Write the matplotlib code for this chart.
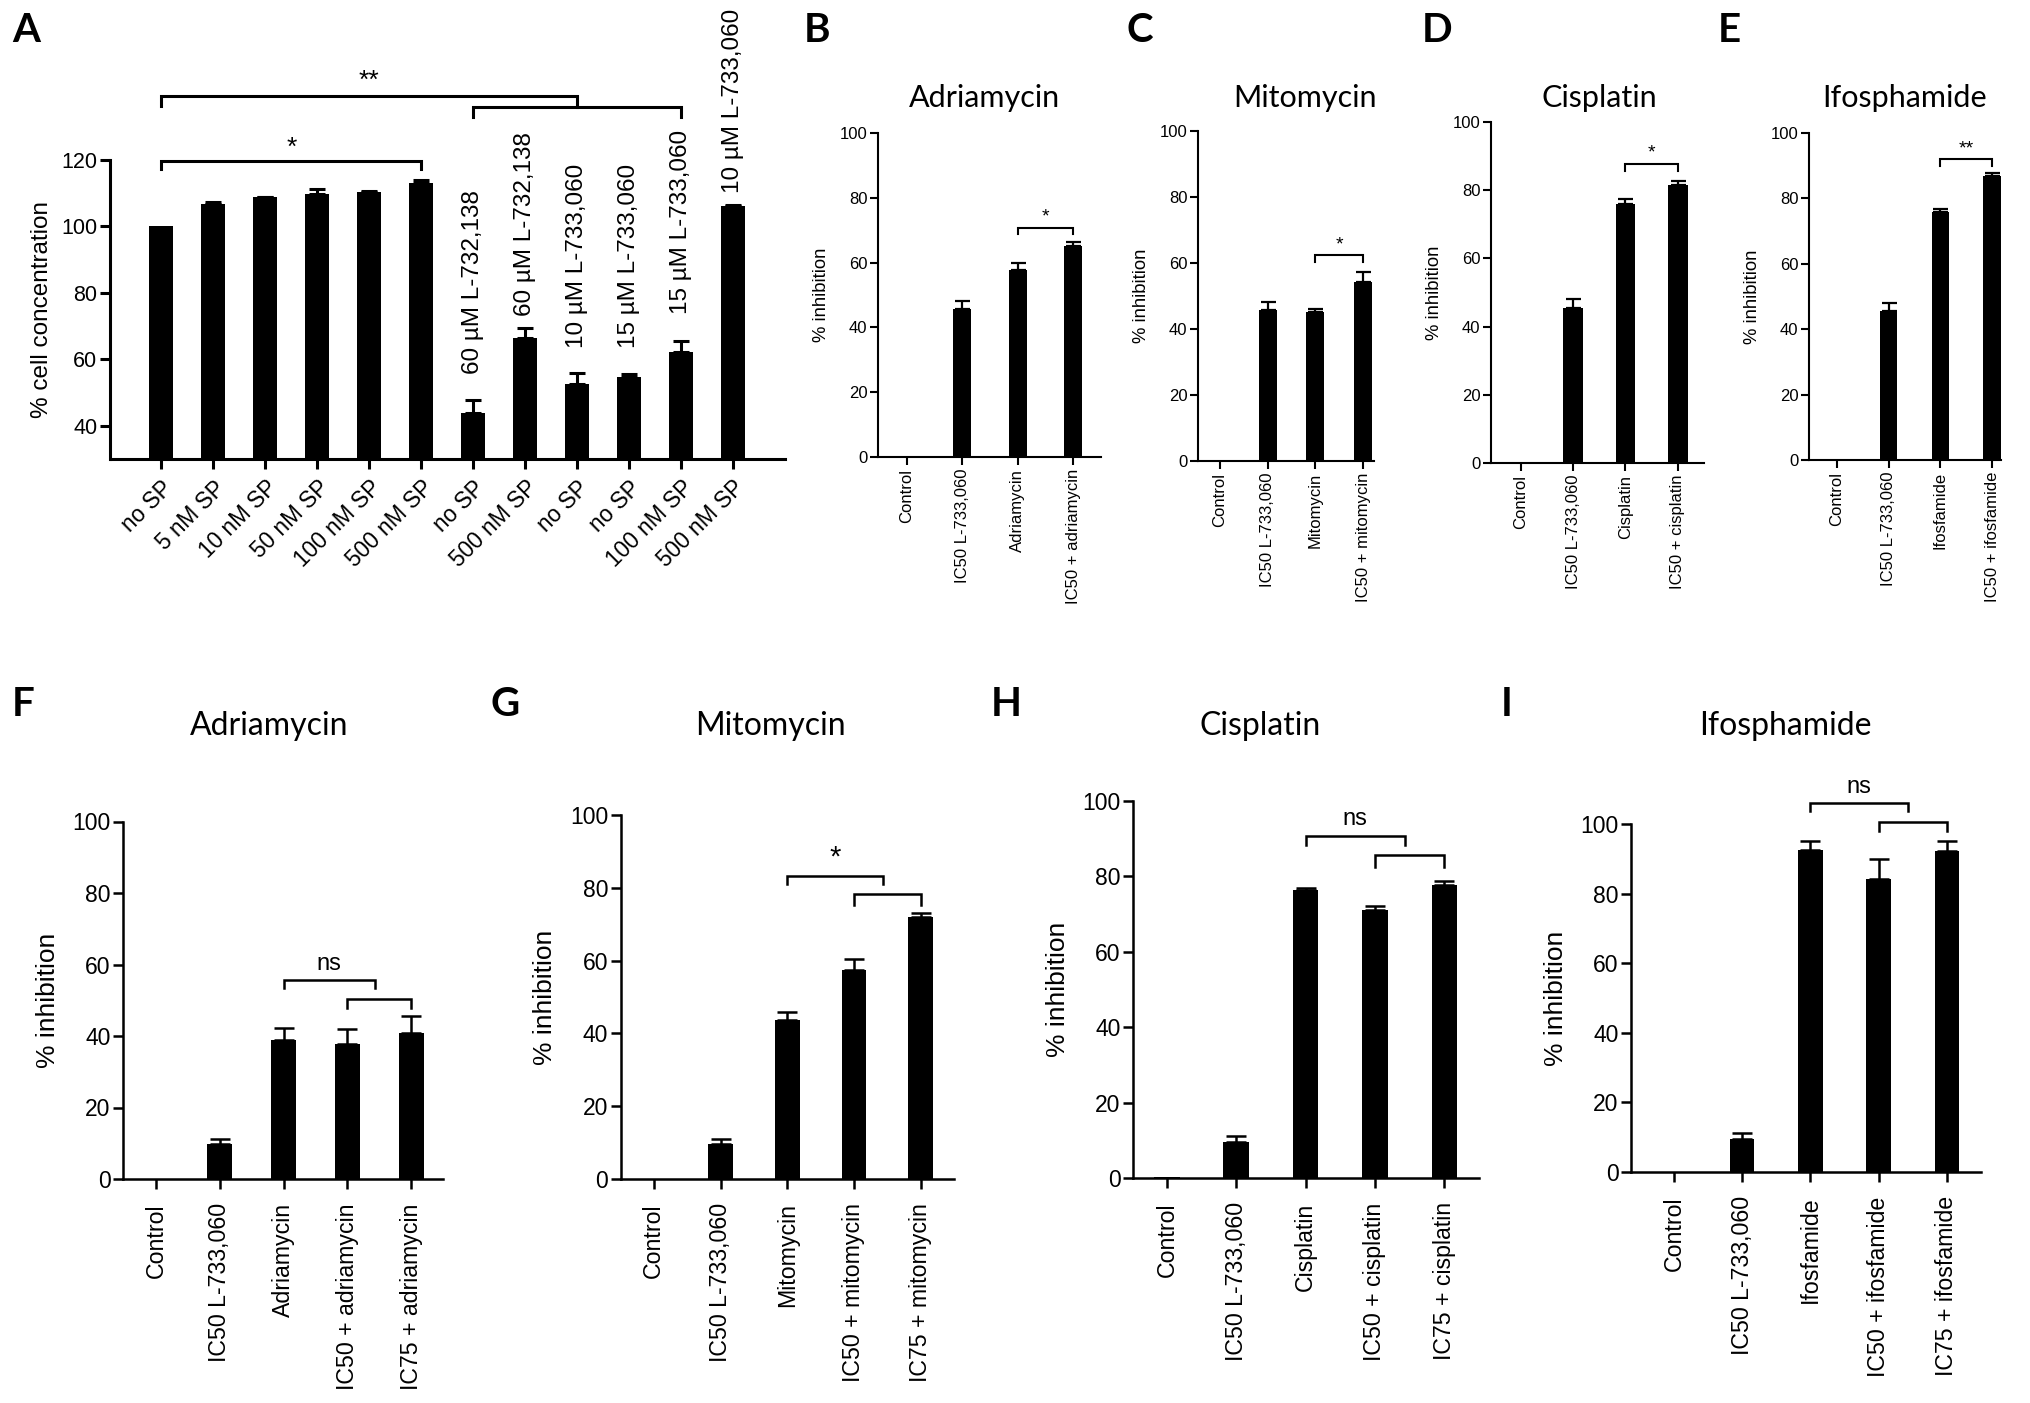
import numpy as np
import matplotlib
matplotlib.use("Agg")
from matplotlib import pyplot as plt

W, H = 2031, 1403
plt.rcParams['font.family'] = ['Liberation Sans', 'DejaVu Sans']

# ---- panel A: cell concentration ----
a_labels = ['no SP', '5 nM SP', '10 nM SP', '50 nM SP', '100 nM SP', '500 nM SP',
            'no SP', '500 nM SP', 'no SP', 'no SP', '100 nM SP', '500 nM SP']
a_values = [100, 106.9, 108.9, 109.9, 110.5, 113.2, 43.8, 66.4, 52.7, 54.8, 62.3, 106.3]
a_sem = [0, 0.6, 0.1, 1.4, 0.1, 0.8, 3.9, 3.0, 3.3, 0.7, 3.3, 0.2]
a_group_labels = ['60 µM L-732,138', '60 µM L-732,138', '10 µM L-733,060',
                  '15 µM L-733,060', '15 µM L-733,060', '10 µM L-733,060']
a_group_bars = [6, 7, 8, 9, 10, 11]
a_group_y = [55.7, 73.0, 63.5, 63.5, 73.6, 110.0]

# ---- panels B-E: IC50 combinations ----
b_labels = ['Control', 'IC50 L-733,060', 'Adriamycin', 'IC50 + adriamycin']
b_values = [0, 45.7, 57.6, 65.2]
b_sem = [0, 2.5, 2.4, 1.3]

c_labels = ['Control', 'IC50 L-733,060', 'Mitomycin', 'IC50 + mitomycin']
c_values = [0, 45.7, 45.1, 54.3]
c_sem = [0, 2.4, 0.9, 3.1]

d_labels = ['Control', 'IC50 L-733,060', 'Cisplatin', 'IC50 + cisplatin']
d_values = [0, 45.6, 75.9, 81.5]
d_sem = [0, 2.4, 1.4, 1.3]

e_labels = ['Control', 'IC50 L-733,060', 'Ifosfamide', 'IC50 + ifosfamide']
e_values = [0, 45.6, 75.7, 86.9]
e_sem = [0, 2.3, 1.0, 0.8]

# ---- panels F-I: IC50 / IC75 combinations ----
f_labels = ['Control', 'IC50 L-733,060', 'Adriamycin', 'IC50 + adriamycin', 'IC75 + adriamycin']
f_values = [0, 9.7, 39.0, 37.8, 40.9]
f_sem = [0, 1.6, 3.3, 4.1, 4.8]

g_labels = ['Control', 'IC50 L-733,060', 'Mitomycin', 'IC50 + mitomycin', 'IC75 + mitomycin']
g_values = [0, 9.5, 43.8, 57.5, 72.0]
g_sem = [0, 1.6, 2.2, 3.0, 1.2]

h_labels = ['Control', 'IC50 L-733,060', 'Cisplatin', 'IC50 + cisplatin', 'IC75 + cisplatin']
h_values = [0.3, 9.5, 76.5, 71.0, 77.6]
h_sem = [0, 1.7, 0.3, 1.2, 1.3]

i_labels = ['Control', 'IC50 L-733,060', 'Ifosfamide', 'IC50 + ifosfamide', 'IC75 + ifosfamide']
i_values = [0, 9.6, 92.6, 84.2, 92.1]
i_sem = [0, 1.7, 2.6, 5.6, 2.9]

# significance brackets: (x0, x1, y, left leg, right leg)
a_brackets = [(0, 5, 119.8, 2.5, 2.5), (0, 8, 139.3, 3.0, 3.3), (6, 10, 136.0, 3.0, 3.0)]
a_marks = [('*', 2.5, 123.6), ('**', 4.0, 143.8)]


def px_axes(fig, left, right, top, bottom):
    return fig.add_axes([left / W, 1 - bottom / H, (right - left) / W, (bottom - top) / H])


def style_axes(ax, lw, ticklen, fs):
    for s in ['top', 'right']:
        ax.spines[s].set_visible(False)
    for s in ['left', 'bottom']:
        ax.spines[s].set_linewidth(lw)
    ax.tick_params(direction='out', width=lw, length=ticklen, labelsize=fs, pad=2)


def draw_bars(ax, values, sem, width, lw, cap):
    x = np.arange(len(values))
    ax.bar(x, values, width, color='black', edgecolor='black', linewidth=0, zorder=2)
    sem = np.array(sem, dtype=float)
    keep = sem > 0
    ax.errorbar(x[keep], np.array(values)[keep], yerr=[np.zeros(keep.sum()), sem[keep]],
                fmt='none', ecolor='black', elinewidth=lw, capsize=cap, capthick=lw, zorder=3)
    return x


def bracket(ax, x0, x1, y, leg0, leg1, lw):
    ax.plot([x0, x0, x1, x1], [y - leg0, y, y, y - leg1], color='black', lw=lw,
            clip_on=False, solid_joinstyle='miter', zorder=4)


fig = plt.figure(figsize=(W / 100, H / 100), dpi=100)

# ---------- A ----------
ax = px_axes(fig, 110.5, 785, 160, 459)
style_axes(ax, 2.2, 7.5, 15.5)
ax.tick_params(axis='x', pad=5)
x = draw_bars(ax, a_values, a_sem, 0.46, 2.2, 6)
ax.set_xlim(-0.98, 12.0)
ax.set_ylim(30, 120)
ax.set_yticks([40, 60, 80, 100, 120])
ax.spines['left'].set_bounds(30, 120)
ax.set_xticks(x)
ax.set_xticklabels(a_labels, rotation=45, ha='right', rotation_mode='anchor', fontsize=16.3)
ax.set_ylabel('% cell concentration', fontsize=17.5, labelpad=6)
for lab, b, yy in zip(a_group_labels, a_group_bars, a_group_y):
    ax.text(b, yy, lab, rotation=90, ha='center', va='bottom', fontsize=17.5)
for br in a_brackets:
    bracket(ax, *br, lw=2.2)
for txt, xx, yy in a_marks:
    ax.text(xx, yy, txt, ha='center', va='center', fontsize=19, clip_on=False)

# ---------- B-E ----------
top_panels = [
    (b_labels, b_values, b_sem, (878, 1101, 133, 457), (-0.52, 3.5), 0.33,
     'Adriamycin', (984, 98), 'B', (817, 31), (2, 3, 70.8, 1.9, 1.9), ('*', 74.2)),
    (c_labels, c_values, c_sem, (1198, 1374, 131, 461), (-0.46, 3.23), 0.38,
     'Mitomycin', (1305, 98), 'C', (1140, 31), (2, 3, 62.3, 2.1, 2.1), ('*', 65.4)),
    (d_labels, d_values, d_sem, (1491, 1704, 122, 463), (-0.57, 3.5), 0.37,
     'Cisplatin', (1599, 98), 'D', (1437, 31), (2, 3, 87.8, 2.1, 2.1), ('*', 90.8)),
    (e_labels, e_values, e_sem, (1809, 2001, 133, 460), (-0.54, 3.17), 0.34,
     'Ifosphamide', (1905, 98), 'E', (1729, 31), (2, 3, 91.9, 1.9, 1.9), ('**', 95.0)),
]

for labels, vals, sem, box, xlim, bw, title, tpos, letter, lpos, br, mark in top_panels:
    ax = px_axes(fig, *box)
    style_axes(ax, 1.5, 5.5, 12)
    ax.tick_params(axis='x', pad=3)
    x = draw_bars(ax, vals, sem, bw, 1.6, 5.4)
    ax.set_xlim(*xlim)
    ax.set_ylim(0, 100)
    ax.set_yticks([0, 20, 40, 60, 80, 100])
    ax.set_xticks(x)
    ax.set_xticklabels(labels, rotation=90, fontsize=12)
    ax.set_ylabel('% inhibition', fontsize=13.3, labelpad=7)
    bracket(ax, *br, lw=1.5)
    ax.text((br[0] + br[1]) / 2, mark[1], mark[0], ha='center', va='center', fontsize=14,
            clip_on=False)
    fig.text(tpos[0] / W, 1 - tpos[1] / H, title, ha='center', va='center',
             fontsize=22, family=['Lato', 'DejaVu Sans'])
    fig.text(lpos[0] / W, 1 - lpos[1] / H, letter, ha='center', va='center',
             fontsize=29, fontweight='bold', family=['Lato', 'DejaVu Sans'])

fig.text(26 / W, 1 - 31 / H, 'A', ha='center', va='center', fontsize=29,
         fontweight='bold', family=['Lato', 'DejaVu Sans'])

# ---------- F-I ----------
bottom_panels = [
    (f_labels, f_values, f_sem, (123, 443, 821.5, 1179), (-0.52, 4.5), 0.39,
     'Adriamycin', (269, 726), 'F', (23, 705),
     [(2, 3.43, 55.7, 2.3, 2.3), (3, 4, 50.3, 2.5, 2.5)], ('ns', 60.2)),
    (g_labels, g_values, g_sem, (620.5, 954, 815, 1179), (-0.5, 4.5), 0.37,
     'Mitomycin', (770, 726), 'G', (505, 705),
     [(2, 3.43, 83.3, 2.3, 2.3), (3, 4, 78.2, 2.8, 2.8)], ('*', 88.4)),
    (h_labels, h_values, h_sem, (1133, 1479, 801, 1178), (-0.49, 4.5), 0.37,
     'Cisplatin', (1260, 726), 'H', (1006, 705),
     [(2, 3.43, 90.7, 2.4, 2.4), (3, 4, 85.6, 3.0, 3.0)], ('ns', 95.1)),
    (i_labels, i_values, i_sem, (1631, 1981, 824, 1172), (-0.63, 4.5), 0.36,
     'Ifosphamide', (1785, 726), 'I', (1507, 705),
     [(2, 3.43, 106.0, 2.3, 2.3), (3, 4, 100.7, 2.7, 2.7)], ('ns', 110.6)),
]

for labels, vals, sem, box, xlim, bw, title, tpos, letter, lpos, brs, mark in bottom_panels:
    ax = px_axes(fig, *box)
    style_axes(ax, 1.8, 7, 16.5)
    ax.tick_params(axis='x', pad=10.5)
    x = draw_bars(ax, vals, sem, bw, 1.8, 7.5)
    ax.set_xlim(*xlim)
    ax.set_ylim(0, 100)
    ax.set_yticks([0, 20, 40, 60, 80, 100])
    ax.set_xticks(x)
    ax.set_xticklabels(labels, rotation=90, fontsize=16.7)
    ax.set_ylabel('% inhibition', fontsize=19, labelpad=9)
    for br in brs:
        bracket(ax, *br, lw=1.8)
    ax.text((brs[0][0] + brs[0][1]) / 2, mark[1], mark[0], ha='center', va='center',
            fontsize=17 if mark[0] == 'ns' else 21, clip_on=False)
    fig.text(tpos[0] / W, 1 - tpos[1] / H, title, ha='center', va='center',
             fontsize=23, family=['Lato', 'DejaVu Sans'])
    fig.text(lpos[0] / W, 1 - lpos[1] / H, letter, ha='center', va='center',
             fontsize=29, fontweight='bold', family=['Lato', 'DejaVu Sans'])

fig.savefig('out.png', dpi=100)
